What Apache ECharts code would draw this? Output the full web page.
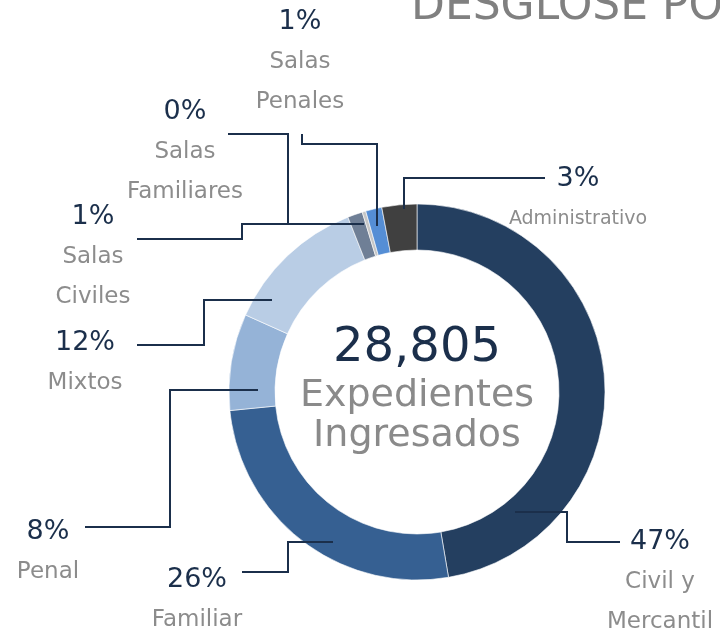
<!DOCTYPE html>
<html>
<head>
<meta charset="utf-8">
<script src="https://cdn.jsdelivr.net/npm/echarts@6/dist/echarts.min.js"></script>
<style>
  html, body { margin: 0; padding: 0; background: #fff; }
  #main { width: 720px; height: 635px; }
</style>
</head>
<body>
<div id="main"></div>
<script>
// datos
const categorias = ['Civil y\nMercantil', 'Familiar', 'Penal', 'Mixtos', 'Salas\nCiviles', 'Salas\nFamiliares', 'Salas\nPenales', 'Administrativo']
const expedientes = [13630, 7520, 2390, 3540, 370, 90, 400, 865]
const colores = ['#243f60', '#366092', '#95b3d7', '#b9cde5', '#6f7f96', '#c6c6c6', '#558ed5', '#404040']

// posición de etiquetas y líneas guía (solo maquetación)
const etiquetas = [
  { x: 660, y: 521, line: [[515, 512], [567, 512], [567, 542], [620, 542]] },
  { x: 197, y: 559, line: [[333, 542], [288, 542], [288, 572], [242, 572]] },
  { x: 48, y: 511, line: [[258, 390], [170, 390], [170, 527], [85, 527]] },
  { x: 85, y: 322, line: [[272, 300], [204, 300], [204, 345], [137, 345]] },
  { x: 93, y: 196, line: [[355, 224], [242, 224], [242, 239], [137, 239]] },
  { x: 185, y: 91, line: [[364, 224], [288, 224], [288, 134], [228, 134]] },
  { x: 300, y: 1, line: [[377, 226], [377, 144], [302, 144], [302, 134]] },
  { x: 578, y: 158, line: [[404, 209], [404, 178], [545, 178]] }
]

const total = expedientes.reduce((a, b) => a + b, 0)
const fuente = 'DejaVu Sans'
const colorLinea = '#1b2f4b'

let myChart = echarts.init(document.getElementById('main'))

const lineas = etiquetas.map(e => ({
  type: 'polyline',
  z: 100,
  shape: { points: e.line },
  style: { stroke: colorLinea, lineWidth: 2, fill: null }
}))

const option = {
  animation: false,
  graphic: [
    {
      type: 'text', x: 411, y: -14,
      style: { text: 'DESGLOSE POR MATERIA', fill: '#808080', font: '44px ' + fuente }
    },
    {
      type: 'text', x: 417, y: 349,
      style: { text: total.toLocaleString('en-US'), fill: colorLinea, font: '48px ' + fuente, align: 'center', verticalAlign: 'middle' }
    },
    {
      type: 'text', x: 417, y: 396,
      style: { text: 'Expedientes', fill: '#8a8a8a', font: '38px ' + fuente, align: 'center', verticalAlign: 'middle' }
    },
    {
      type: 'text', x: 417, y: 436,
      style: { text: 'Ingresados', fill: '#8a8a8a', font: '38px ' + fuente, align: 'center', verticalAlign: 'middle' }
    }
  ].concat(lineas),
  series: [
    {
      type: 'pie',
      center: [417, 392],
      radius: [142, 188],
      startAngle: 90,
      clockwise: true,
      itemStyle: { borderColor: '#fff', borderWidth: 0.6 },
      label: {
        show: true,
        position: 'outside',
        overflow: 'none',
        formatter: function (p) {
          const pct = Math.round(p.value / total * 100) + '%'
          const filas = p.name.split('\n').map(t => (p.dataIndex === 7 ? '{s|' : '{n|') + t + '}')
          return '{p|' + pct + '}\n' + filas.join('\n')
        },
        rich: {
          p: { fontFamily: fuente, fontSize: 27, color: colorLinea, lineHeight: 41, align: 'center' },
          n: { fontFamily: fuente, fontSize: 23, color: '#8c8c8c', lineHeight: 40, align: 'center' },
          s: { fontFamily: fuente, fontSize: 19, color: '#8c8c8c', lineHeight: 40, align: 'center' }
        }
      },
      labelLine: { show: false },
      labelLayout: function (params) {
        const e = etiquetas[params.dataIndex]
        return { x: e.x, y: e.y, align: 'center', verticalAlign: 'top' }
      },
      data: categorias.map((c, i) => ({
        name: c,
        value: expedientes[i],
        itemStyle: { color: colores[i] }
      }))
    }
  ]
}

myChart.setOption(option)
window.addEventListener('resize', function () {
  myChart.resize()
})
</script>
</body>
</html>
